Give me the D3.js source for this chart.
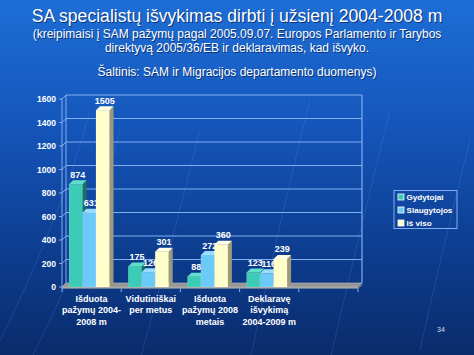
<!DOCTYPE html>
<html><head><meta charset="utf-8">
<script src="https://cdn.jsdelivr.net/npm/d3@7"></script>
<style>html,body{margin:0;padding:0;background:#0d3580;}svg{display:block;}</style>
</head><body>
<script>
const categories = [["Išduota","pažymų 2004-","2008 m"],["Vidutiniškai","per metus"],["Išduota","pažymų 2008","metais"],["Deklaravę","išvykimą","2004-2009 m"],[""]];
const seriesNames = ["Gydytojai","Slaugytojos","Iš viso"];
const gydytojai = [874,175,88,123];
const slaugytojos = [631,126,272,116];
const isViso = [1505,301,360,239];
const yTicks = [0,200,400,600,800,1000,1200,1400,1600];
const titleLines = ["SA specialistų išvykimas dirbti į užsienį 2004-2008 m"];
const subLines = ["(kreipimaisi į SAM pažymų pagal 2005.09.07. Europos Parlamento ir Tarybos","direktyvą 2005/36/EB ir deklaravimas, kad išvyko.","","Šaltinis: SAM ir Migracijos departamento duomenys)"];

const W=474,H=355;
const svg=d3.select("body").append("svg").attr("width",W).attr("height",H);
const defs=svg.append("defs");
const bg=defs.append("linearGradient").attr("id","bg").attr("x1",0).attr("y1",0).attr("x2",0).attr("y2",1);
bg.append("stop").attr("offset","0%").attr("stop-color","#1d6ed6");
bg.append("stop").attr("offset","35%").attr("stop-color","#1556bb");
bg.append("stop").attr("offset","75%").attr("stop-color","#0c3a8a");
bg.append("stop").attr("offset","100%").attr("stop-color","#0a2c6c");
svg.append("rect").attr("width",W).attr("height",H).attr("fill","url(#bg)");

// faint decorative arcs
const arcs=svg.append("g").attr("fill","none").attr("stroke","#6aa0ee").attr("stroke-opacity",0.18).attr("stroke-width",1);
[[-40,420,60,230],[10,400,90,250],[140,360,170,250],[250,360,280,220],[330,360,360,230],[420,350,440,260]].forEach(a=>{
  arcs.append("path").attr("d",`M${a[0]},${a[1]} Q${a[2]},${a[3]} ${a[2]+30},${a[3]-120}`);
});

// titles
const tg=svg.append("g").attr("text-anchor","middle").attr("font-family","Liberation Sans, Arial, sans-serif");
function shadowText(x,y,t,size){
  tg.append("text").attr("x",x+1).attr("y",y+1).attr("font-size",size).attr("fill","#08245a").attr("fill-opacity",0.8).text(t);
  tg.append("text").attr("x",x).attr("y",y).attr("font-size",size).attr("fill","#ffffff").text(t);
}
shadowText(237,21.5,titleLines[0],17.6);
const subY=[37.5,52,64,76];
subLines.forEach((t,i)=>{ if(t) shadowText(237,subY[i],t,12); });

// chart geometry
const d=4;
const x0=62,x1=358;
const y=d3.scaleLinear().domain([0,1600]).range([287,99]);
const x=d3.scaleBand().domain(d3.range(categories.length)).range([x0,x1]).padding(0);
const sub=d3.scaleBand().domain(d3.range(seriesNames.length)).range([7,47.5]).padding(0);
const colors=[
  {front:"#3ccbb6",top:"#5fe0cc",side:"#1d6f63"},
  {front:"#6ccaf8",top:"#99ddff",side:"#3a7fa8"},
  {front:"#ffffcc",top:"#ffffe6",side:"#9c9a78"}
];

const g=svg.append("g");
const gridCol="#82aef2";
yTicks.forEach(v=>{
  const yy=y(v);
  if(v>0){
    g.append("line").attr("x1",x0+d).attr("x2",x1+d).attr("y1",yy-d).attr("y2",yy-d).attr("stroke",gridCol).attr("stroke-width",1);
  }
  g.append("line").attr("x1",x0).attr("x2",x0+d).attr("y1",yy).attr("y2",yy-d).attr("stroke",gridCol).attr("stroke-width",1);
});
g.append("line").attr("x1",x1+d).attr("x2",x1+d).attr("y1",y(1600)-d).attr("y2",y(0)-d).attr("stroke",gridCol).attr("stroke-width",1.2);
g.append("line").attr("x1",x0+d).attr("x2",x0+d).attr("y1",y(1600)-d).attr("y2",y(0)-d).attr("stroke",gridCol).attr("stroke-width",1);
// floor
g.append("path").attr("d",`M${x0},${y(0)} L${x0+d},${y(0)-d} L${x1+d},${y(0)-d} L${x1},${y(0)} Z`).attr("fill","#969696").attr("stroke","#b8b8b8").attr("stroke-width",0.6);
g.append("rect").attr("x",x0).attr("y",y(0)).attr("width",x1-x0).attr("height",1.6).attr("fill","#a8a8a8");
g.append("line").attr("x1",x1).attr("x2",x1+d).attr("y1",y(0)+1.6).attr("y2",y(0)-d+1.6).attr("stroke","#a8a8a8");
// front axis
g.append("line").attr("x1",x0).attr("x2",x0).attr("y1",y(1600)).attr("y2",y(0)+2).attr("stroke",gridCol).attr("stroke-width",1);
yTicks.forEach(v=>{
  g.append("line").attr("x1",x0-3).attr("x2",x0).attr("y1",y(v)).attr("y2",y(v)).attr("stroke",gridCol);
  g.append("text").attr("x",56).attr("y",y(v)+3).attr("text-anchor","end").attr("font-family","Liberation Sans, Arial, sans-serif").attr("font-weight","bold").attr("font-size",8.5).attr("fill","#ffffff").text(v);
});
d3.range(categories.length+1).forEach(i=>{
  const xx=x0+i*x.bandwidth();
  g.append("line").attr("x1",xx).attr("x2",xx).attr("y1",y(0)+1.6).attr("y2",y(0)+5).attr("stroke",gridCol);
});
categories.forEach((lines,i)=>{
  const cx=x(i)+x.bandwidth()/2;
  lines.forEach((t,j)=>{
    if(!t) return;
    g.append("text").attr("x",cx).attr("y",301.5+j*11.5).attr("text-anchor","middle").attr("font-family","Liberation Sans, Arial, sans-serif").attr("font-weight","bold").attr("font-size",9).attr("fill","#ffffff").text(t);
  });
});

// bars
const series=[gydytojai,slaugytojos,isViso];
series.forEach((vals,s)=>{
  const c=colors[s];
  const bg2=g.append("g");
  vals.forEach((v,i)=>{
    const bx=x(i)+sub(s), bw=sub.bandwidth(), by=y(v), b0=y(0);
    bg2.append("path").attr("d",`M${bx+bw},${by} L${bx+bw+d},${by-d} L${bx+bw+d},${b0-d} L${bx+bw},${b0} Z`).attr("fill",c.side);
    bg2.append("path").attr("d",`M${bx},${by} L${bx+d},${by-d} L${bx+bw+d},${by-d} L${bx+bw},${by} Z`).attr("fill",c.top);
    bg2.append("rect").attr("x",bx).attr("y",by).attr("width",bw).attr("height",b0-by).attr("fill",c.front).attr("stroke","#ffffff").attr("stroke-opacity",0.25).attr("stroke-width",0.5);
    bg2.append("text").attr("x",bx+bw/2+2).attr("y",by-d-2.5).attr("text-anchor","middle").attr("font-family","Liberation Sans, Arial, sans-serif").attr("font-weight","bold").attr("font-size",9).attr("fill","#ffffff").text(v);
  });
});

// legend
const lg=svg.append("g");
lg.append("rect").attr("x",394).attr("y",190.5).attr("width",63).attr("height",38).attr("fill","none").attr("stroke","#82aef2").attr("stroke-width",1);
seriesNames.forEach((n,i)=>{
  const yy=197+i*13;
  lg.append("rect").attr("x",398).attr("y",yy-3).attr("width",6).attr("height",6).attr("fill",colors[i].front).attr("stroke","#ffffff").attr("stroke-width",0.8);
  lg.append("text").attr("x",406.5).attr("y",yy+3.2).attr("font-family","Liberation Sans, Arial, sans-serif").attr("font-weight","bold").attr("font-size",8.1).attr("fill","#ffffff").text(n);
});

svg.append("text").attr("x",441).attr("y",332).attr("text-anchor","middle").attr("font-family","Liberation Sans, Arial, sans-serif").attr("font-size",7).attr("fill","#ffffff").attr("fill-opacity",0.85).text("34");
</script>
</body></html>
